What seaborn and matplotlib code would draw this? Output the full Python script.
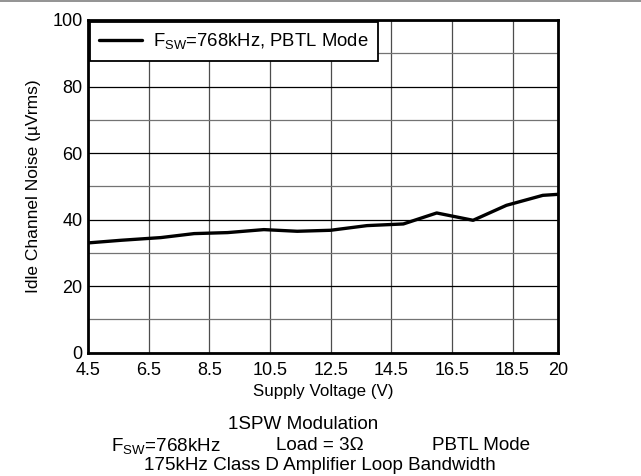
import matplotlib
matplotlib.use('Agg')
import matplotlib.pyplot as plt
import seaborn as sns
import pandas as pd
from matplotlib.lines import Line2D
from matplotlib.ticker import MultipleLocator

# values
supply_v = [4.5, 5.6, 6.9, 8.0, 9.1, 10.3, 11.4, 12.5, 13.7, 14.9, 16.0, 17.2, 18.3, 19.5, 20.0]
noise_uv = [33.0, 33.8, 34.6, 35.8, 36.1, 37.0, 36.5, 36.8, 38.2, 38.7, 42.0, 39.8, 44.3, 47.3, 47.6]
x_ticks = [4.5, 6.5, 8.5, 10.5, 12.5, 14.5, 16.5, 18.5, 20]
x_tick_labels = ['4.5', '6.5', '8.5', '10.5', '12.5', '14.5', '16.5', '18.5', '20']
y_ticks = [0, 20, 40, 60, 80, 100]
series_label = r'F$_{\mathrm{SW}}$=768kHz, PBTL Mode'

df = pd.DataFrame({'Supply Voltage (V)': supply_v, 'Noise': noise_uv})

sns.set_style('white')
plt.rcParams['font.family'] = ['Liberation Sans', 'DejaVu Sans']
plt.rcParams['mathtext.fontset'] = 'custom'
plt.rcParams['mathtext.rm'] = 'Liberation Sans'
plt.rcParams['mathtext.it'] = 'Liberation Sans:italic'
plt.rcParams['text.color'] = 'black'
plt.rcParams['axes.labelcolor'] = 'black'

fig = plt.figure(figsize=(6.41, 4.76), dpi=100)
ax = fig.add_axes([0.1373, 0.259, 0.7332, 0.699])

sns.lineplot(data=df, x='Supply Voltage (V)', y='Noise', ax=ax, color='black',
             linewidth=2.4, label=series_label)

ax.set_xlim(4.5, 20)
ax.set_ylim(0, 100)
ax.set_xticks(x_ticks)
ax.set_xticklabels(x_tick_labels)
ax.set_yticks(y_ticks)
ax.yaxis.set_minor_locator(MultipleLocator(10))
ax.tick_params(axis='both', which='both', length=0, labelsize=13, colors='black')
ax.tick_params(axis='x', pad=7)
ax.tick_params(axis='y', pad=4)

ax.grid(True, which='major', axis='y', color='black', linewidth=0.9)
ax.grid(True, which='minor', axis='y', color='0.45', linewidth=0.9)
ax.grid(True, which='major', axis='x', color='0.3', linewidth=0.9)
ax.set_axisbelow(True)

for sp in ax.spines.values():
    sp.set_visible(True)
    sp.set_color('black')
    sp.set_linewidth(2.0)

ax.set_xlabel('Supply Voltage (V)', fontsize=12.2, labelpad=3)
ax.set_ylabel('Idle Channel Noise (\u00b5Vrms)', fontsize=12.5, labelpad=8)

leg = ax.legend(loc='upper left', borderaxespad=0.12, fontsize=13.3, frameon=True,
                fancybox=False, handlelength=2.3, handletextpad=0.6, borderpad=0.5)
leg.get_frame().set_edgecolor('black')
leg.get_frame().set_linewidth(1.3)
leg.get_frame().set_alpha(1)

# caption below the chart
fig.text(0.473, 0.108, '1SPW Modulation', ha='center', va='center', fontsize=13.6)
fig.text(0.259, 0.064, r'F$_{\mathrm{SW}}$=768kHz', ha='center', va='center', fontsize=13.6)
fig.text(0.499, 0.064, 'Load = 3\u03a9', ha='center', va='center', fontsize=13.6)
fig.text(0.750, 0.064, 'PBTL Mode', ha='center', va='center', fontsize=13.6)
fig.text(0.499, 0.023, '175kHz Class D Amplifier Loop Bandwidth', ha='center', va='center', fontsize=13.6)

fig.add_artist(Line2D([0, 1], [0.997, 0.997], transform=fig.transFigure, color='0.5', linewidth=1.2))

fig.savefig('out.png', dpi=100)
